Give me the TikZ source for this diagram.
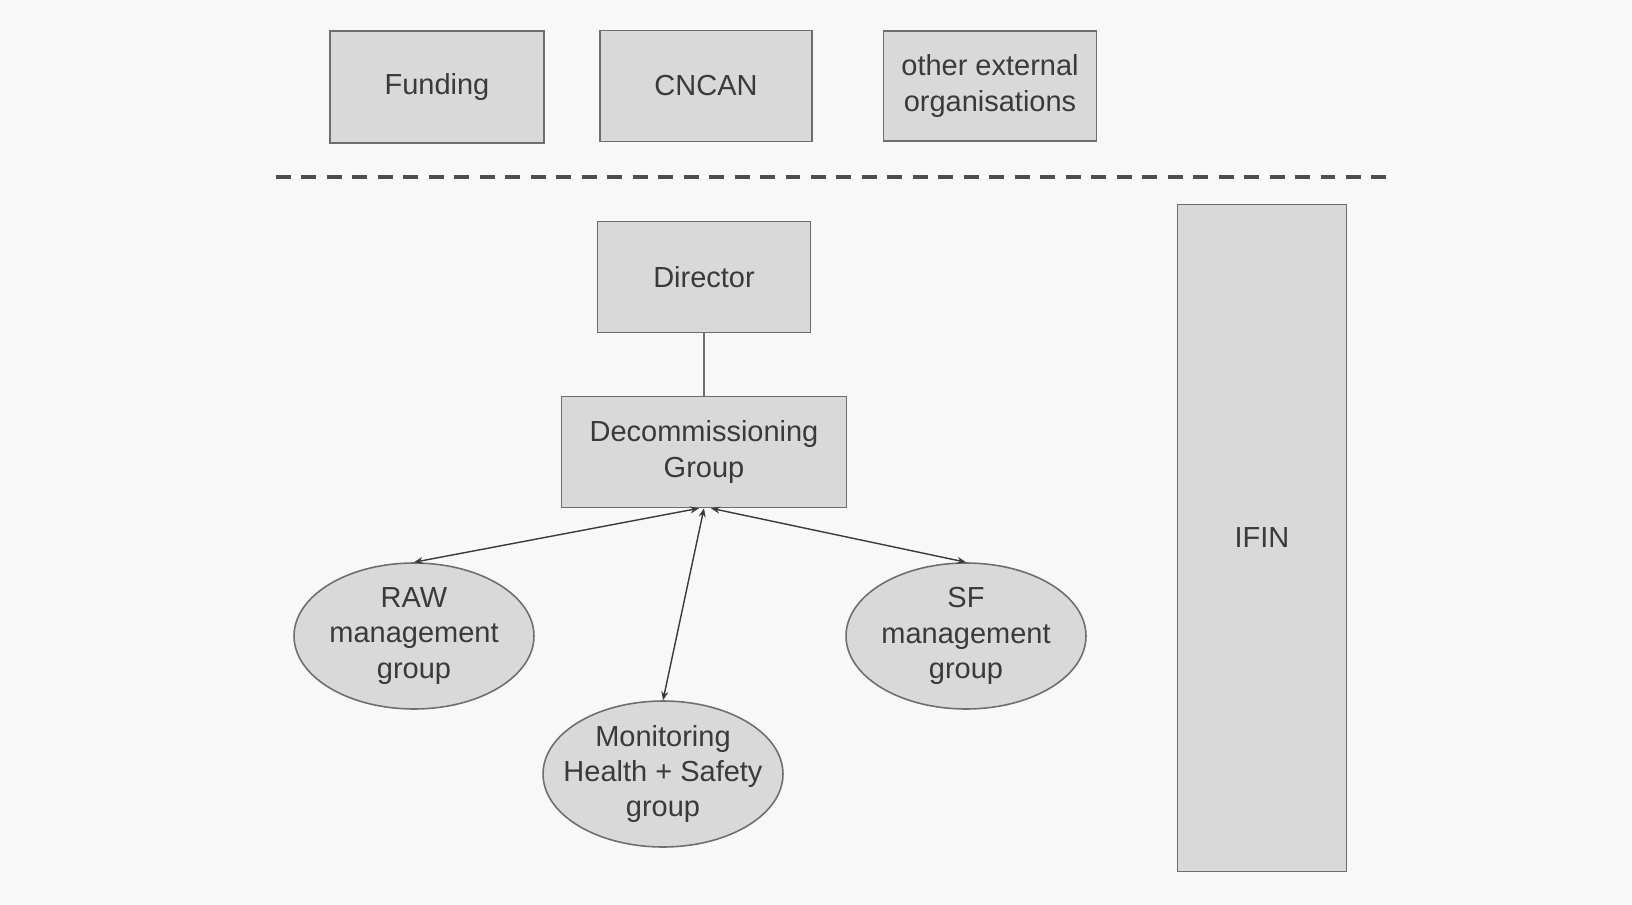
\documentclass[tikz,border=0pt]{standalone}
\usepackage{fontspec}
\setmainfont{Liberation Sans}
\usetikzlibrary{arrows.meta, shapes.geometric}

\definecolor{boxfill}{HTML}{D9D9D9}
\definecolor{boxline}{HTML}{6E6E6E}
\definecolor{inkgray}{HTML}{3A3A3A}
\definecolor{paper}{HTML}{F8F8F8}

\begin{document}
\begin{tikzpicture}[x=0.02cm, y=-0.02cm,
  every node/.style = {text=inkgray, font=\fontsize{16.5}{20}\selectfont, align=center},
  unit/.style = {draw=boxline, fill=boxfill, line width=0.9pt, inner sep=0pt},
  group/.style = {ellipse, draw=boxline, fill=boxfill, line width=0.9pt, inner sep=0pt,
                  minimum width=4.8cm, minimum height=2.92cm},
  link/.style = {draw=inkgray, line width=0.8pt, {Stealth[length=5pt,width=4pt]}-{Stealth[length=5pt,width=4pt]}}]
\useasboundingbox [fill=paper] (0,0) rectangle (1632,905);

% outside bodies
\node[unit, minimum width=4.28cm, minimum height=2.24cm] (fund) at (437,87) {Funding};
\node[unit, minimum width=4.24cm, minimum height=2.22cm] (cncan) at (706,86) {CNCAN};
\node[unit, minimum width=4.26cm, minimum height=2.2cm] (ext) at (990,86) {other external\\organisations};

\coordinate (sepl) at (276,177);
\coordinate (sepr) at (1391,177);
\draw[draw=inkgray!90, line width=1.9pt, dash pattern=on 8.5pt off 6pt] (sepl) -- (sepr);

% inside
\node[unit, minimum width=4.26cm, minimum height=2.22cm] (dir) at (704,277) {Director};
\node[unit, minimum width=5.7cm, minimum height=2.22cm] (decom) at (704,452) {Decommissioning\\Group};
\node[unit, minimum width=3.38cm, minimum height=13.34cm] (ifin) at (1262,538) {IFIN};

\node[group] (raw) at (414,636) {RAW\\management\\group};
\node[group] (sf) at (966,636) {SF\\management\\group};
\node[group, inner xsep=-0.3cm] (mon) at (663,774) {Monitoring\\Health + Safety\\group};

\draw[draw=boxline, line width=0.9pt] (dir) -- (decom);
\draw[link] ([xshift=-0.1cm]decom.south) -- (raw.north);
\draw[link] (decom.south) -- (mon.north);
\draw[link] ([xshift=0.14cm]decom.south) -- (sf.north);
\end{tikzpicture}
\end{document}
